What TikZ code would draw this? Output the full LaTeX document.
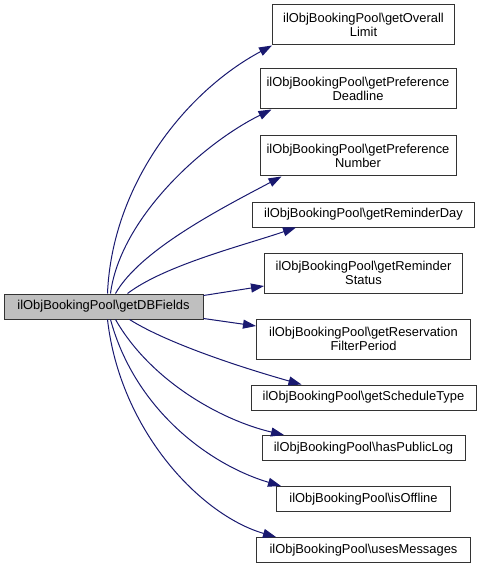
\documentclass[tikz,border=0pt]{standalone}
\usepackage{fontspec}
\setmainfont{Liberation Sans}
\usetikzlibrary{arrows.meta,calc}
\definecolor{edgeblue}{HTML}{191970}
\definecolor{nodefill}{HTML}{BFBFBF}
\definecolor{nodeline}{HTML}{333333}
\begin{document}
\begin{tikzpicture}[x=1pt,y=-1pt,
  box/.style={draw=nodeline, line width=1pt, fill=white, inner sep=0pt, align=center,
    font=\fontsize{12.9}{13.5}\selectfont, text=black},
  one/.style={minimum height=25pt},
  two/.style={minimum height=40pt},
  call/.style={draw=edgeblue, line width=1pt, -{Triangle[length=13pt,width=9pt]}}]
\useasboundingbox (0,0) rectangle (483,569);

\node[box, one, fill=nodefill, minimum width=199pt] (main) at (103.5,306.5) {ilObjBookingPool\textbackslash getDBFields};

\node[box, two, minimum width=182pt] (b1) at (363.5,25) {ilObjBookingPool\textbackslash getOverall\\Limit};
\node[box, two, minimum width=196pt] (b2) at (358,89) {ilObjBookingPool\textbackslash getPreference\\Deadline};
\node[box, two, minimum width=196pt] (b3) at (358,156) {ilObjBookingPool\textbackslash getPreference\\Number};
\node[box, one, minimum width=222pt] (b4) at (363.5,214.5) {ilObjBookingPool\textbackslash getReminderDay};
\node[box, two, minimum width=198pt] (b5) at (363.5,273) {ilObjBookingPool\textbackslash getReminder\\Status};
\node[box, two, minimum width=214pt] (b6) at (363.5,339) {ilObjBookingPool\textbackslash getReservation\\FilterPeriod};
\node[box, one, minimum width=225pt] (b7) at (363.5,397.5) {ilObjBookingPool\textbackslash getScheduleType};
\node[box, one, minimum width=203pt] (b8) at (363.5,448) {ilObjBookingPool\textbackslash hasPublicLog};
\node[box, one, minimum width=174pt] (b9) at (363.5,499) {ilObjBookingPool\textbackslash isOffline};
\node[box, one, minimum width=214pt] (b10) at (363.5,550) {ilObjBookingPool\textbackslash usesMessages};

% edges upward
\draw[call] ($(main.north west)+(104,0)$) .. controls (112,185) and (185,92) .. (b1.south west);
\draw[call] ($(main.north west)+(107,0)$) .. controls (120,220) and (200,145) .. ($(b2.south west)+(12,0)$);
\draw[call] ($(main.north west)+(112,0)$) .. controls (140,250) and (222,208) .. ($(b3.south west)+(22,0)$);
\draw[call] ($(main.north west)+(124,0)$) .. controls (165,265) and (245,245) .. ($(b4.south west)+(44,0)$);
\draw[call] ($(main.north east)+(0,2)$) -- ($(b5.west)+(0,13)$);
% edges downward
\draw[call] ($(main.south east)+(0,-1)$) -- ($(b6.west)+(0,-13)$);
\draw[call] ($(main.south west)+(126,0)$) .. controls (170,345) and (250,370) .. ($(b7.north west)+(51,0)$);
\draw[call] ($(main.south west)+(112,0)$) .. controls (150,380) and (220,420) .. ($(b8.north west)+(22.5,0)$);
\draw[call] ($(main.south west)+(107,0)$) .. controls (135,410) and (210,465) .. ($(b9.north west)+(5,0)$);
\draw[call] ($(main.south west)+(104,0)$) .. controls (120,430) and (200,515) .. ($(b10.north west)+(20,0)$);
\end{tikzpicture}
\end{document}
